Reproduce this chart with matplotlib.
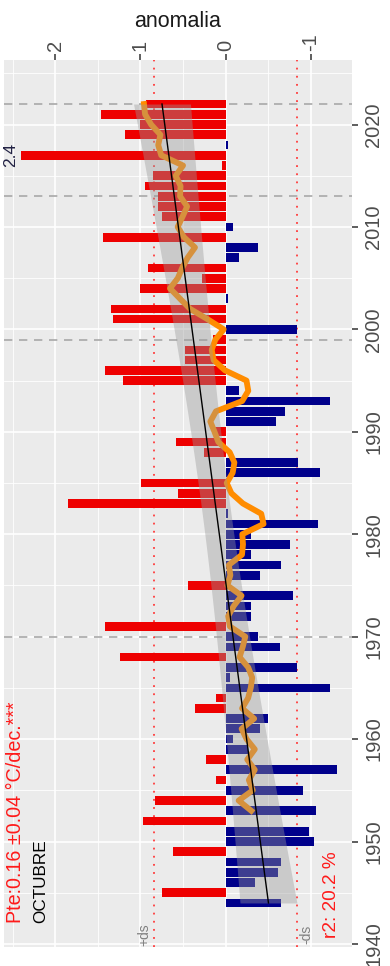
import numpy as np
import pandas as pd
import matplotlib
matplotlib.use("Agg")
import matplotlib.pyplot as plt
from matplotlib.ticker import MultipleLocator, FixedLocator

plt.rcParams["font.family"] = ["Liberation Sans", "DejaVu Sans"]

# October temperature anomalies (°C) by year
years = np.arange(1944, 2023)
anom = np.array([
    -0.65, 0.75, -0.34, -0.61, -0.65, 0.62, -1.04, -0.98, 0.97, -1.06,   # 1944-1953
    0.83, -0.91, 0.12, -1.30, 0.23, -0.26, -0.08, -0.40, -0.50, 0.36,    # 1954-1963
    0.12, -1.22, -0.05, -0.83, 1.24, -0.63, -0.38, 1.41, -0.30, -0.30,   # 1964-1973
    -0.79, 0.44, -0.40, -0.65, -0.30, -0.75, -0.30, -1.08, -0.03, 1.85,  # 1974-1983
    0.56, 0.99, -1.10, -0.85, 0.25, 0.58, 0.15, -0.59, -0.69, -1.22,     # 1984-1993
    -0.16, 1.20, 1.42, 0.48, 0.48, 0.15, -0.83, 1.32, 1.34, -0.03,       # 1994-2003
    1.01, 0.28, 0.91, -0.16, -0.38, 1.44, -0.09, 0.75, 0.80, 0.80,       # 2004-2013
    0.95, 0.85, 0.05, 2.40, -0.03, 1.18, 1.00, 1.46, 0.93,               # 2014-2022
])

slope_per_decade = 0.16      # trend, °C/decade
ds = 0.84                    # standard deviation band
marked_years = [1970, 1999, 2013, 2022]
peak_year, peak_label = 2017, "2.4"
x_ticks = [-1, 0, 1, 2]
x_ticklabels = ["-1", "0", "1", "2"]
y_ticks = list(range(1940, 2030, 10))
y_ticklabels = [str(y) for y in y_ticks]

# 10-year trailing mean
roll = pd.Series(anom, index=years).rolling(10).mean()

# linear trend and its confidence band
slope = slope_per_decade / 10.0
xbar = years.mean()
fit = anom.mean() + slope * (years - xbar)
n = len(years)
resid = anom - fit
s = np.sqrt((resid ** 2).sum() / (n - 2))
sxx = ((years - xbar) ** 2).sum()
half = 1.99 * s * np.sqrt(1.0 / n + (years - xbar) ** 2 / sxx)

fig = plt.figure(figsize=(3.9, 9.66), dpi=100)
ax = fig.add_axes([4 / 390, 1 - 947 / 966, 348 / 390, 887 / 966])
ax.set_facecolor("#EBEBEB")
for sp in ax.spines.values():
    sp.set_visible(False)

ax.set_xlim(2.6, -1.48)
ax.set_ylim(1939.7, 2026.3)

# grid
ax.xaxis.set_major_locator(FixedLocator(x_ticks))
ax.xaxis.set_minor_locator(MultipleLocator(0.5))
ax.yaxis.set_major_locator(FixedLocator(y_ticks))
ax.yaxis.set_minor_locator(MultipleLocator(5))
ax.grid(which="major", color="white", lw=1.2, zorder=0)
ax.grid(which="minor", color="white", lw=0.6, zorder=0)
ax.set_axisbelow(True)

# reference lines
for y in marked_years:
    ax.axhline(y, color="#A8A8A8", lw=1.2, ls=(0, (5, 4)), zorder=1)
for v in (ds, -ds):
    ax.axvline(v, color="#FF3B3B", lw=1.3, ls=(0, (1, 3.5)), zorder=1)

# anomaly bars
colors = ["#EE0000" if v > 0 else "#00008B" for v in anom]
ax.barh(years, anom, height=0.85, color=colors, lw=0, zorder=2)

# running mean
ax.plot(roll.values, years, color="#FF8C00", lw=4.2, zorder=3,
        solid_joinstyle="round")

# trend band and trend line
ax.fill_betweenx(years, fit - half, fit + half, color="#999999", alpha=0.4,
                 lw=0, zorder=4)
ax.plot(fit, years, color="black", lw=1.0, zorder=5)

# axes
ax.xaxis.set_ticks_position("top")
ax.xaxis.set_label_position("top")
ax.set_xticklabels(x_ticklabels)
ax.yaxis.tick_right()
ax.set_yticklabels(y_ticklabels)
ax.tick_params(which="major", length=4.3, width=1.1, color="#333333",
               labelcolor="#4D4D4D", labelsize=14.5)
ax.tick_params(axis="x", pad=2.5, labelrotation=90)
ax.tick_params(axis="y", pad=4.5, labelrotation=90)
ax.tick_params(which="minor", length=0)
for lab in ax.get_yticklabels():
    lab.set_va("center")
ax.set_xlabel("anomalia", fontsize=15.5, color="#1A1A1A", labelpad=4)

# annotations
ax.text(2.47, 1942.0, "Pte:0.16 \u00b10.04 \u00b0C/dec.***", rotation=90,
        ha="center", va="bottom", color="#FF1A1A", fontsize=14.2, zorder=6)
ax.text(2.175, 1942.0, "OCTUBRE", rotation=90, ha="center", va="bottom",
        color="black", fontsize=12.3, zorder=6)
ax.text(-1.243, 1940.6, "r2: 20.2 %", rotation=90, ha="center", va="bottom",
        color="#FF1A1A", fontsize=13.7, zorder=6)
ax.text(2.52, peak_year, peak_label, rotation=90, ha="center", va="center",
        color="#222244", fontsize=12.5, zorder=6)
ax.text(0.96, 1940.9, "+ds", rotation=90, ha="center", va="center",
        color="#808080", fontsize=10, zorder=6)
ax.text(-0.95, 1940.9, "-ds", rotation=90, ha="center", va="center",
        color="#808080", fontsize=10, zorder=6)

fig.savefig("out.png", dpi=100)
